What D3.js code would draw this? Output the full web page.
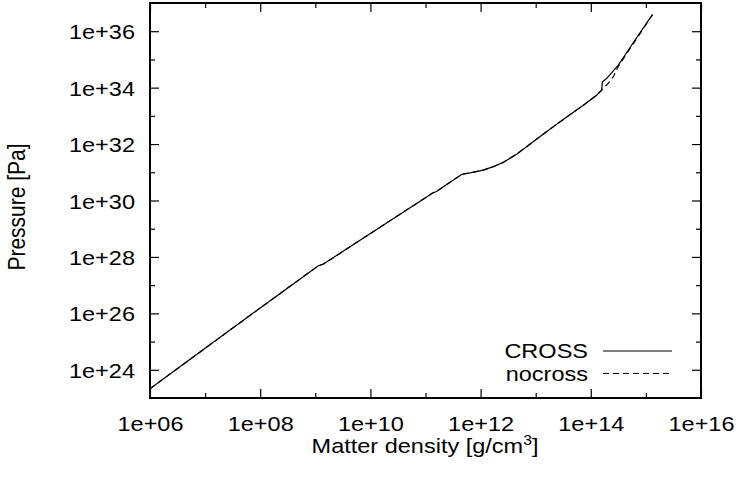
<html>
    <head>
        <meta charset="utf-8" />
        <script src="https://d3js.org/d3.v7.min.js"></script>
        <style>
            body { margin: 0; background: #fff; }
            text { font-family: "Liberation Sans", Arial, sans-serif; font-size: 21px; fill: #000; }
            .curve { fill: none; stroke: #000; stroke-width: 1.2; }
        </style>
    </head>
    <body>
        <svg id="chart" width="740" height="479"></svg>
        <script>
            // matter density [g/cm3] and pressure [Pa]
            let rhoCross = [1e6, 1e7, 1e8, 1.12e9, 1.41e9, 1e10, 1e11, 1.32e11, 1.58e11, 4.57e11, 6.46e11,
                1.12e12, 1.70e12, 2.57e12, 4.57e12, 7.94e12, 1.38e13, 2.40e13, 4.17e13, 7.24e13, 1.29e14, 1.58e14,
                1.62e14, 1.95e14, 3.16e14, 6.31e14, 1.32e15]
            let pCross = [2.14e23, 5.75e24, 1.55e26, 4.79e27, 5.62e27, 6.76e28, 1.26e30, 1.82e30, 2.09e30, 8.51e30, 9.55e30,
                1.20e31, 1.58e31, 2.24e31, 4.47e31, 1.00e32, 2.29e32, 5.01e32, 1.10e33, 2.34e33, 5.50e33, 8.32e33,
                1.58e34, 2.14e34, 6.31e34, 4.79e35, 3.98e36]
            let rhoNocross = [1e6, 1e7, 1e8, 1.12e9, 1.41e9, 1e10, 1e11, 1.32e11, 1.58e11, 4.57e11, 6.46e11,
                1.12e12, 1.70e12, 2.57e12, 4.57e12, 7.94e12, 1.38e13, 2.40e13, 4.17e13, 7.24e13, 1.29e14, 1.58e14,
                2.09e14, 2.57e14, 3.16e14, 6.31e14, 1.32e15]
            let pNocross = [2.14e23, 5.75e24, 1.55e26, 4.79e27, 5.62e27, 6.76e28, 1.26e30, 1.82e30, 2.09e30, 8.51e30, 9.55e30,
                1.20e31, 1.58e31, 2.24e31, 4.47e31, 1.00e32, 2.29e32, 5.01e32, 1.10e33, 2.34e33, 5.50e33, 8.32e33,
                1.45e34, 2.45e34, 5.75e34, 4.37e35, 3.80e36]
            let seriesNames = ["CROSS", "nocross"]
            let xMajor = [1e6, 1e8, 1e10, 1e12, 1e14, 1e16]
            let xMinor = [1e7, 1e9, 1e11, 1e13, 1e15]
            let yMajor = [1e24, 1e26, 1e28, 1e30, 1e32, 1e34, 1e36]
            let yMinor = [1e25, 1e27, 1e29, 1e31, 1e33, 1e35]

            let pLeft = 150, pRight = 701, pTop = 3, pBottom = 398
            let stretch = 1.12

            let x = d3.scaleLog().domain([1e6, 1e16]).range([pLeft, pRight])
            let y = d3.scaleLog().domain([1e23, 1e37]).range([pBottom, pTop])
            let fmt = d => "1e+" + String(Math.round(Math.log10(d))).padStart(2, "0")

            let svg = d3.select("#chart")

            function axis(gen, vals, len, labels, tx, ty) {
                let g = svg.append("g").attr("transform", `translate(${tx},${ty})`)
                    .call(gen.tickValues(vals).tickSizeInner(-len).tickSizeOuter(0)
                        .tickFormat(labels ? fmt : ""))
                g.select(".domain").remove()
                g.selectAll("line").attr("stroke", "#000").attr("stroke-width", 1.2)
                g.attr("font-size", null).attr("font-family", null)
                return g
            }

            let bx = axis(d3.axisBottom(x).tickPadding(18), xMajor, 9, true, 0, pBottom)
            bx.selectAll("text").attr("dy", "0.71em").attr("transform", `scale(${stretch},1)`)
            axis(d3.axisBottom(x), xMinor, 5, false, 0, pBottom)
            axis(d3.axisTop(x), xMajor, 9, false, 0, pTop)
            axis(d3.axisTop(x), xMinor, 5, false, 0, pTop)

            let ly = axis(d3.axisLeft(y), yMajor, 9, true, pLeft, 0)
            ly.selectAll("text").attr("x", -15 / stretch).attr("dy", "0.36em")
                .attr("transform", `scale(${stretch},1)`)
            axis(d3.axisLeft(y), yMinor, 5, false, pLeft, 0)
            axis(d3.axisRight(y), yMajor, 9, false, pRight, 0)
            axis(d3.axisRight(y), yMinor, 5, false, pRight, 0)

            svg.append("rect").attr("x", pLeft).attr("y", pTop)
                .attr("width", pRight - pLeft).attr("height", pBottom - pTop)
                .attr("fill", "none").attr("stroke", "#000").attr("stroke-width", 2)

            let line = d3.line().x(d => x(d[0])).y(d => y(d[1]))
            svg.append("path").attr("class", "curve")
                .attr("d", line(d3.zip(rhoCross, pCross)))
            svg.append("path").attr("class", "curve").attr("stroke-dasharray", "6,4")
                .attr("d", line(d3.zip(rhoNocross, pNocross)))

            // legend
            let leg = svg.append("g")
            seriesNames.forEach((name, i) => {
                let yy = 351 + i * 22.5
                leg.append("text").attr("text-anchor", "end")
                    .attr("transform", `translate(588,${yy + 7}) scale(${stretch},1)`)
                    .text(name)
                leg.append("line").attr("x1", 603).attr("x2", 672).attr("y1", yy).attr("y2", yy)
                    .attr("stroke", "#000").attr("stroke-width", 1.2)
                    .attr("stroke-dasharray", i ? "6,4" : null)
            })

            // axis titles
            let xt = svg.append("text").attr("text-anchor", "middle")
                .attr("transform", `translate(425,453) scale(${stretch},1)`)
            xt.append("tspan").text("Matter density [g/cm")
            xt.append("tspan").attr("dy", -8).attr("font-size", 14).text("3")
            xt.append("tspan").attr("dy", 8).text("]")

            svg.append("text").attr("text-anchor", "middle").attr("font-size", 21.5)
                .attr("transform", "translate(25,207) rotate(-90) scale(1,1.12)")
                .text("Pressure [Pa]")
        </script>
    </body>
</html>
